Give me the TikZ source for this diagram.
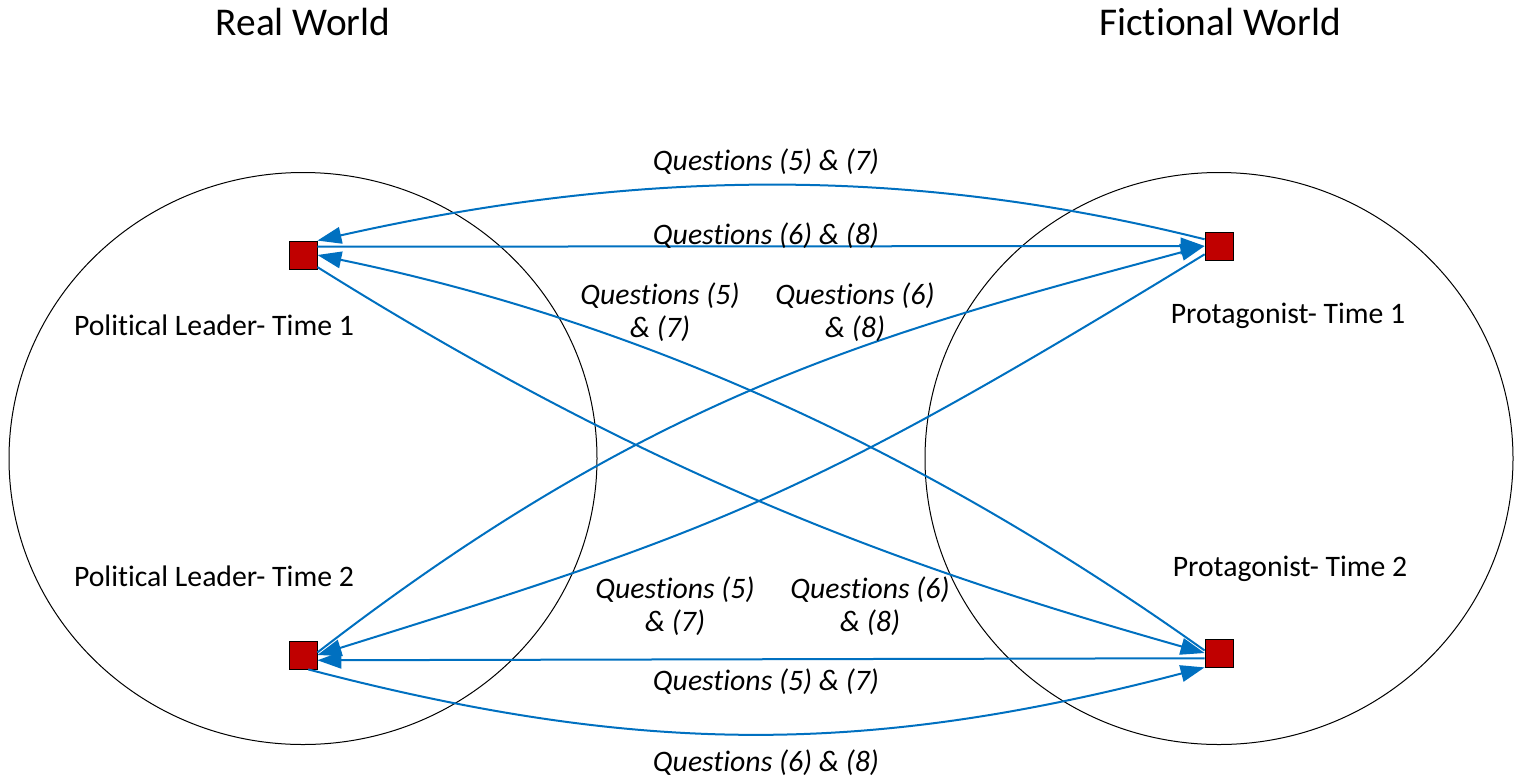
\documentclass[tikz,border=0pt]{standalone}
\usepackage{fontspec}
\setmainfont{Carlito}[RawFeature={-liga;-clig;-dlig;-rlig;-calt}]
\usetikzlibrary{arrows.meta}
\definecolor{arrblue}{HTML}{0070C0}
\definecolor{boxred}{HTML}{C00000}
\begin{document}
\begin{tikzpicture}[x=0.75pt,y=-0.75pt,
  sq/.style={draw=black, fill=boxred, minimum size=21pt, inner sep=0pt, line width=0.6pt},
  conn/.style={draw=arrblue, line width=1.5pt, -{Triangle[length=18pt,width=12.5pt]}},
  lbl/.style={font=\fontsize{22.3}{25}\selectfont\itshape, align=center, inner sep=0pt},
  who/.style={font=\fontsize{22.3}{27}\selectfont, inner sep=0pt},
  ttl/.style={font=\fontsize{29.5}{35}\selectfont, inner sep=0pt},
  world/.style={draw=black, line width=0.75pt}]
\useasboundingbox (0,0) rectangle (1525,783);

% worlds
\draw[world] (303,458.5) ellipse [x radius=220.5pt, y radius=214.5pt];
\draw[world] (1219,458.5) ellipse [x radius=220.5pt, y radius=214.5pt];

% titles
\node[ttl] (rw) at (303,22) {Real World};
\node[ttl] (fw) at (1220,22) {Fictional World};

% squares
\node[sq] (pl1) at (303,255) {};
\node[sq] (p1) at (1219,246) {};
\node[sq] (pl2) at (303,655) {};
\node[sq] (p2) at (1219,653) {};

% names
\node[who] (npl1) at (214,325) {Political Leader- Time 1};
\node[who] (npl2) at (214,576) {Political Leader- Time 2};
\node[who] (np1) at (1288,316) {Protagonist- Time 1};
\node[who] (np2) at (1290,569) {Protagonist- Time 2};

% connectors
\draw[conn] (p1.155) .. controls (915,167) and (645,167) .. (pl1.north east);
\draw[conn] (pl1.30) -- (p1.west);
\draw[conn] (p2.170) .. controls (905,437) and (618,317) .. (pl1.east);
\draw[conn] (pl1.-40) .. controls (656,479) and (905,568) .. (p2.west);
\draw[conn] (pl2.10) .. controls (657,390) and (885,332) .. (p1.west);
\draw[conn] (p1.-150) .. controls (805,499) and (718,530) .. (pl2.east);
\draw[conn] (p2.-160) -- (pl2.-20);
\draw[conn] (pl2.-70) .. controls (640,756) and (866,756) .. (p2.south west);

% labels
\node[lbl] (q1) at (766,162) {Questions (5) \& (7)};
\node[lbl] (q2) at (766,236) {Questions (6) \& (8)};
\node[lbl] (q3) at (660,312) {Questions (5)\\\& (7)};
\node[lbl] (q4) at (855,312) {Questions (6)\\\& (8)};
\node[lbl] (q5) at (675,606) {Questions (5)\\\& (7)};
\node[lbl] (q6) at (870,606) {Questions (6)\\\& (8)};
\node[lbl] (q7) at (766,682) {Questions (5) \& (7)};
\node[lbl] (q8) at (766,763) {Questions (6) \& (8)};
\end{tikzpicture}
\end{document}
